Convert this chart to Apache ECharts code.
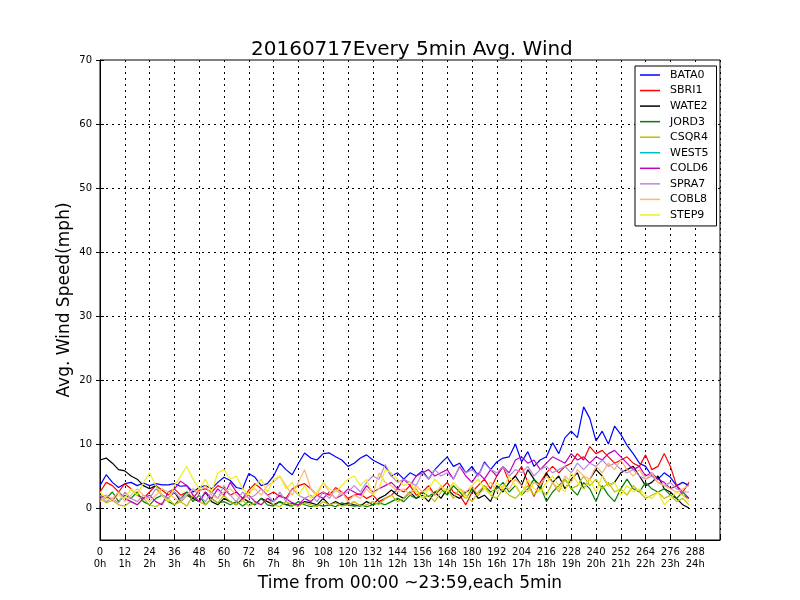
<!DOCTYPE html>
<html><head><meta charset="utf-8">
<script src="https://cdn.jsdelivr.net/npm/echarts@6/dist/echarts.min.js"></script>
<style>html,body{margin:0;padding:0;background:#fff}#c{width:800px;height:600px}</style>
</head><body><div id="c"></div>
<script>
const sampleStep = 3; // one reading every 3 five-minute slots
const seriesNames = ['BATA0','SBRI1','WATE2','JORD3','CSQR4','WEST5','COLD6','SPRA7','COBL8','STEP9'];
const seriesColors = ['#0000ff','#ff0000','#000000','#008000','#bfbf00','#00bfbf','#bf00bf','#b48cdc','#ffb673','#eeee22'];
const xTickValues = [0,12,24,36,48,60,72,84,96,108,120,132,144,156,168,180,192,204,216,228,240,252,264,276,288];
const xTickHours = ['0h','1h','2h','3h','4h','5h','6h','7h','8h','9h','10h','11h','12h','13h','14h','15h','16h','17h','18h','19h','20h','21h','22h','23h','24h'];
const yTickValues = [0,10,20,30,40,50,60,70];

const BATA0 = [3.5,5.2,4.0,3.2,3.8,4.0,3.5,3.9,3.5,3.8,3.6,3.6,3.8,3.4,3.5,2.5,3.2,3.5,3.0,4.0,4.8,4.3,3.2,3.0,5.4,4.8,3.5,3.8,5.0,7.0,6.0,5.2,7.0,8.6,7.8,7.5,8.5,8.6,8.0,7.5,6.5,7.0,7.8,8.3,7.5,7.0,6.5,5.0,5.5,4.5,5.5,5.0,5.8,4.5,6.0,7.0,8.0,6.5,7.0,5.5,6.5,5.0,7.2,6.0,7.2,7.8,8.0,10.0,7.2,8.8,6.5,7.5,8.0,10.2,8.5,11.0,12.0,11.0,15.8,14.0,10.5,12.0,10.0,12.8,11.5,9.8,8.5,7.0,6.5,5.0,4.5,5.5,4.8,3.5,4.0,3.5];
const SBRI1 = [2.5,4.0,3.5,2.5,3.8,3.0,2.0,1.5,2.5,3.5,2.8,2.0,3.0,2.0,2.5,1.5,2.8,3.0,2.5,3.5,3.0,2.0,2.5,1.5,2.8,3.8,3.0,2.0,2.5,1.8,1.5,3.0,3.5,3.8,3.0,2.0,2.5,2.0,3.2,2.5,1.5,2.0,2.2,1.5,2.0,1.0,1.5,2.0,3.0,2.5,3.5,2.0,2.5,3.5,2.0,3.0,4.0,2.5,2.0,0.5,2.5,3.5,4.5,3.0,5.0,6.5,4.0,5.0,6.5,4.0,1.8,4.0,5.5,6.5,5.5,6.5,7.0,8.5,7.5,9.6,8.5,9.0,8.0,7.0,7.5,8.0,7.0,6.5,8.3,6.0,6.5,8.5,6.5,3.5,2.5,4.0];
const WATE2 = [7.5,7.8,7.0,6.0,5.8,5.0,4.5,3.5,3.0,3.5,2.0,1.5,2.5,1.0,2.0,1.5,1.0,2.5,1.0,0.5,1.5,1.0,0.5,1.5,1.0,0.5,1.5,1.0,0.5,1.0,0.5,0.8,0.3,1.0,0.8,0.5,1.5,0.5,1.0,0.5,0.8,0.5,0.3,1.0,0.5,1.5,2.0,2.8,2.0,1.5,2.5,1.5,2.0,1.0,2.5,1.5,3.0,2.0,1.5,2.5,3.0,1.5,2.0,1.0,3.5,2.5,4.0,5.0,3.5,6.0,4.5,3.0,5.5,4.0,5.0,3.0,4.5,5.5,3.0,4.5,6.0,5.0,3.5,4.0,5.5,6.0,6.5,5.0,3.5,4.0,5.0,3.0,2.5,1.5,0.5,0.0];
const JORD3 = [2.0,1.5,2.5,1.0,2.0,1.5,2.5,1.0,0.5,1.5,2.0,1.0,0.5,1.5,2.5,1.0,2.0,0.5,1.5,0.8,1.0,0.5,1.0,0.3,1.0,0.5,1.5,0.5,0.3,1.0,0.5,0.3,1.0,0.5,0.2,0.5,0.3,0.5,0.2,0.8,0.5,0.3,0.5,0.2,0.5,0.8,0.5,1.0,1.5,1.0,2.0,1.5,2.5,1.8,2.5,3.0,2.0,3.5,2.5,1.5,3.0,2.0,3.5,2.5,3.0,4.0,2.5,3.5,2.0,3.0,4.5,3.5,1.0,2.5,3.5,4.5,3.0,2.0,4.0,3.0,1.0,3.5,2.0,1.0,3.0,4.5,3.0,2.5,4.0,3.0,2.5,3.0,2.0,1.5,2.5,1.5];
const CSQR4 = [1.5,0.8,1.2,0.5,0.3,1.0,0.5,1.5,0.5,0.2,0.8,1.5,0.5,1.0,0.3,2.0,1.0,0.5,1.5,0.8,2.0,1.0,0.5,1.2,0.3,0.8,0.5,1.5,0.5,0.2,1.0,0.5,0.3,0.8,0.5,0.2,1.0,0.5,0.8,0.3,0.5,1.0,0.3,0.5,1.0,0.5,1.5,2.0,1.0,1.5,2.5,3.0,1.5,2.0,1.0,2.5,3.0,1.5,3.0,2.0,1.0,2.5,3.5,2.0,1.5,3.0,2.0,1.5,2.5,3.5,2.0,3.0,2.0,4.0,2.5,4.5,3.0,3.5,5.0,3.5,4.5,3.0,4.0,2.5,3.0,2.0,3.5,2.5,1.5,2.0,2.5,1.5,2.0,1.0,1.5,0.5];
const WEST5 = [];
const COLD6 = [1.5,2.0,1.0,2.5,1.5,1.0,0.5,1.5,2.0,1.0,0.5,2.5,3.0,4.2,3.5,2.0,1.0,2.5,1.5,3.0,2.0,4.0,2.5,1.5,2.0,1.0,0.5,1.5,1.0,2.0,1.5,0.8,0.5,1.5,1.0,2.0,1.5,2.5,1.5,2.0,3.0,2.5,2.0,3.5,2.5,3.0,3.5,4.0,3.0,4.5,3.5,5.0,5.5,6.0,5.0,5.5,6.0,4.5,6.5,5.0,4.0,5.5,4.5,6.0,5.0,6.5,5.5,7.5,8.0,7.0,7.5,6.0,7.0,8.0,7.5,7.0,8.5,7.5,8.0,7.0,8.0,7.5,8.5,9.0,8.0,7.0,6.0,6.5,5.0,5.5,4.5,4.0,3.0,3.5,2.0,1.5];
const SPRA7 = [2.0,1.0,1.5,0.8,2.5,1.5,1.0,2.0,1.5,3.0,2.0,1.5,2.5,1.5,2.0,3.0,2.0,1.0,2.5,1.5,3.5,2.0,1.0,2.5,1.5,2.0,3.0,2.0,1.0,2.5,1.0,3.0,2.0,1.5,2.0,1.0,2.5,1.5,3.0,2.0,2.5,3.5,2.5,4.0,5.0,4.5,6.8,5.0,4.0,4.5,4.0,3.5,5.5,4.5,6.0,5.0,5.5,4.5,6.5,5.5,6.0,5.0,7.0,6.0,5.5,6.5,5.0,6.0,5.5,6.5,5.0,6.0,6.5,5.5,6.0,6.5,5.5,7.0,6.0,7.0,6.5,7.5,6.5,7.0,6.0,5.5,6.0,5.0,4.5,5.0,4.0,3.5,4.0,3.0,2.5,2.5];
const COBL8 = [1.0,2.0,1.5,2.5,1.0,2.0,3.0,2.0,1.0,2.0,3.0,2.5,1.5,1.0,2.0,3.0,2.5,3.5,2.0,1.5,2.5,3.0,2.0,1.0,2.5,3.0,2.0,3.5,4.0,5.0,3.5,2.0,4.0,6.0,3.0,2.0,4.0,2.5,1.5,2.5,1.0,2.0,1.5,3.0,2.0,5.5,4.0,3.5,2.5,3.0,2.0,3.5,2.5,3.0,2.0,3.5,2.5,4.0,3.0,2.5,3.5,2.0,3.0,4.0,2.5,3.5,3.0,4.5,3.5,2.5,4.0,3.5,5.0,4.0,3.0,5.0,4.0,6.0,5.0,4.5,6.5,5.5,7.0,6.0,7.5,6.0,5.0,6.0,4.5,5.5,4.0,3.5,3.0,2.5,3.0,3.5];
const STEP9 = [2.5,1.5,1.0,2.0,1.5,3.0,2.0,4.0,5.5,3.5,2.0,1.0,3.5,5.0,6.5,4.5,3.0,4.5,2.5,5.5,6.0,4.5,5.0,3.0,2.0,3.5,4.5,2.5,4.5,5.0,3.0,4.0,2.0,3.5,1.5,2.5,4.0,3.0,2.5,3.5,4.5,5.0,3.5,4.5,2.0,3.0,6.0,5.5,4.5,3.5,4.0,2.5,1.5,3.0,4.5,3.5,2.5,4.0,3.0,1.5,3.5,4.5,3.0,2.0,4.0,3.0,5.0,3.5,2.0,4.5,3.0,2.5,4.0,5.0,3.5,2.5,5.5,4.0,3.0,4.5,2.5,5.0,3.5,4.0,2.0,3.5,2.5,3.0,2.0,1.5,2.5,0.5,1.5,2.5,2.0,1.0];

const seriesValues = [BATA0,SBRI1,WATE2,JORD3,CSQR4,WEST5,COLD6,SPRA7,COBL8,STEP9];
const FONT = 'DejaVu Sans';
const gridDash = { color: '#000', width: 1, type: [2, 4] };

const series = seriesNames.map((name, k) => ({
  name, type: 'line', symbol: 'none', showSymbol: false,
  color: seriesColors[k],
  lineStyle: { width: 1.2, color: seriesColors[k] },
  data: seriesValues[k].map((v, i) => [i * sampleStep, v]),
  animation: false, z: 3
}));
series[0].markLine = {
  silent: true, symbol: 'none', label: { show: false }, animation: false, z: 1,
  lineStyle: gridDash,
  data: yTickValues.filter(v => v > 0 && v < 70).concat([0]).map(v => ({ yAxis: v }))
};

const chart = echarts.init(document.getElementById('c'), null, { renderer: 'canvas' });
chart.setOption({
  backgroundColor: '#fff',
  animation: false,
  title: { text: '20160717Every 5min Avg. Wind', left: 246, top: 35,
    textStyle: { fontFamily: FONT, fontSize: 20, fontWeight: 'normal', color: '#000' } },
  legend: {
    data: seriesNames, orient: 'vertical', left: 635, top: 66, z: 20,
    icon: 'rect', itemWidth: 20, itemHeight: 1.5, itemGap: 3.55,
    padding: [3, 8, 5, 5],
    backgroundColor: '#fff', borderColor: '#000', borderWidth: 1,
    textStyle: { fontFamily: FONT, fontSize: 11, lineHeight: 12, color: '#000', padding: [0, 0, 0, 5] }
  },
  grid: { left: 100, right: 80, top: 60, bottom: 60, show: true, borderColor: '#000', borderWidth: 1, backgroundColor: 'transparent' },
  xAxis: [{
    type: 'value', min: 0, max: 300, interval: 12,
    name: 'Time from 00:00 ~23:59,each 5min', nameLocation: 'middle', nameGap: 34,
    nameTextStyle: { fontFamily: FONT, fontSize: 17, color: '#000' },
    axisLine: { show: true, onZero: false, lineStyle: { color: '#000' } },
    axisTick: { inside: true, length: 4, lineStyle: { color: '#000' } },
    axisLabel: { fontFamily: FONT, fontSize: 10, color: '#000', margin: 6, lineHeight: 12,
      formatter: v => { const i = xTickValues.indexOf(v); return i < 0 ? '' : v + '\n' + xTickHours[i]; } },
    splitLine: { show: true, lineStyle: gridDash }
  }, {
    type: 'value', min: 0, max: 300, interval: 12, position: 'top',
    axisLine: { show: false }, axisTick: { inside: true, length: 4, lineStyle: { color: '#000' } },
    axisLabel: { show: false }, splitLine: { show: false }
  }],
  yAxis: [{
    type: 'value', min: -5, max: 70, interval: 5,
    name: 'Avg. Wind Speed(mph)', nameLocation: 'middle', nameGap: 27, nameMoveOverlap: false,
    nameTextStyle: { fontFamily: FONT, fontSize: 17, color: '#000' },
    axisLine: { show: true, onZero: false, lineStyle: { color: '#000' } },
    axisTick: { inside: true, length: 4, customValues: yTickValues, lineStyle: { color: '#000' } },
    axisLabel: { fontFamily: FONT, fontSize: 10, color: '#000', margin: 8, customValues: yTickValues,
      formatter: v => String(v) },
    splitLine: { show: false }
  }, {
    type: 'value', min: -5, max: 70, interval: 5, position: 'right',
    axisLine: { show: false },
    axisTick: { inside: true, length: 4, customValues: yTickValues, lineStyle: { color: '#000' } },
    axisLabel: { show: false }, splitLine: { show: false }
  }],
  series
});
</script>
</body></html>
